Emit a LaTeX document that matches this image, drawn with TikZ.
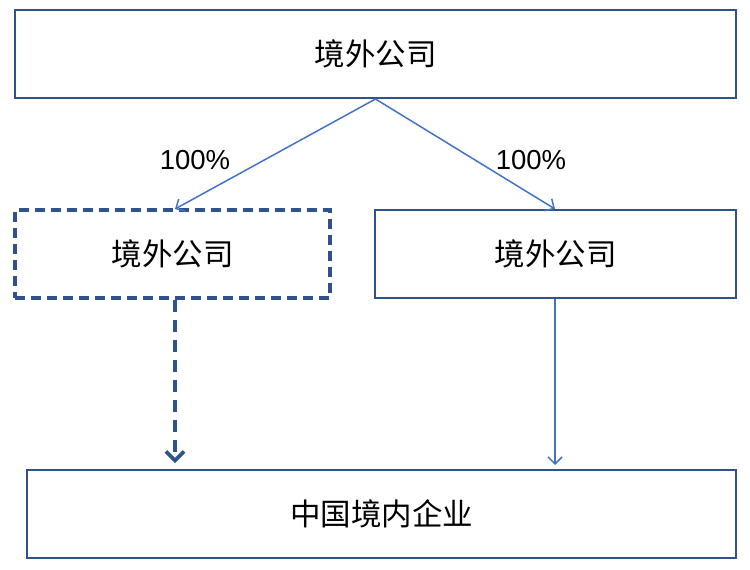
\documentclass[tikz,border=0pt]{standalone}
\usepackage{fontspec}
\setmainfont{Liberation Sans}
\newfontfamily\cjk{Noto Sans CJK SC}
\usetikzlibrary{arrows.meta}
\definecolor{boxblue}{RGB}{47,82,143}
\definecolor{lineblue}{RGB}{68,114,196}
\tikzset{
  box/.style={draw=boxblue, line width=2pt, minimum height=88pt, inner sep=0pt, font=\cjk\fontsize{30.5}{34}\selectfont},
  dbox/.style={box, line width=3.6pt, dash pattern=on 10pt off 6pt},
  link/.style={draw=lineblue, line width=1.5pt, -{Straight Barb[length=7pt, width=14pt, line width=1.5pt]}},
  dlink/.style={draw=boxblue, line width=3.6pt, dash pattern=on 12pt off 8pt, -{Straight Barb[length=9pt, width=18pt, line width=3.6pt]}},
  pct/.style={font=\fontsize{27.5}{32}\selectfont}
}
\begin{document}
\begin{tikzpicture}[x=1pt, y=-1pt]
\useasboundingbox (0,0) rectangle (750,570);
\node[box, minimum width=721pt] (top) at (375.5,54) {境外公司};
\node[dbox, minimum width=315pt] (left) at (172.5,254) {境外公司};
\node[box, minimum width=361pt] (right) at (555.5,254) {境外公司};
\node[box, minimum width=709pt] (bot) at (381.5,514) {中国境内企业};
\coordinate (lt) at (175,209);
\coordinate (rt) at (555,209);
\draw[link] (top.south) -- (lt);
\draw[link] (top.south) -- (rt);
\node[pct] (p1) at (195,160) {100\%};
\node[pct] (p2) at (531,160) {100\%};
\draw[dlink] (left.south -| lt) -- ([yshift=6pt]lt |- bot.north);
\draw[link] (right.south -| rt) -- ([yshift=4pt]rt |- bot.north);
\end{tikzpicture}
\end{document}
